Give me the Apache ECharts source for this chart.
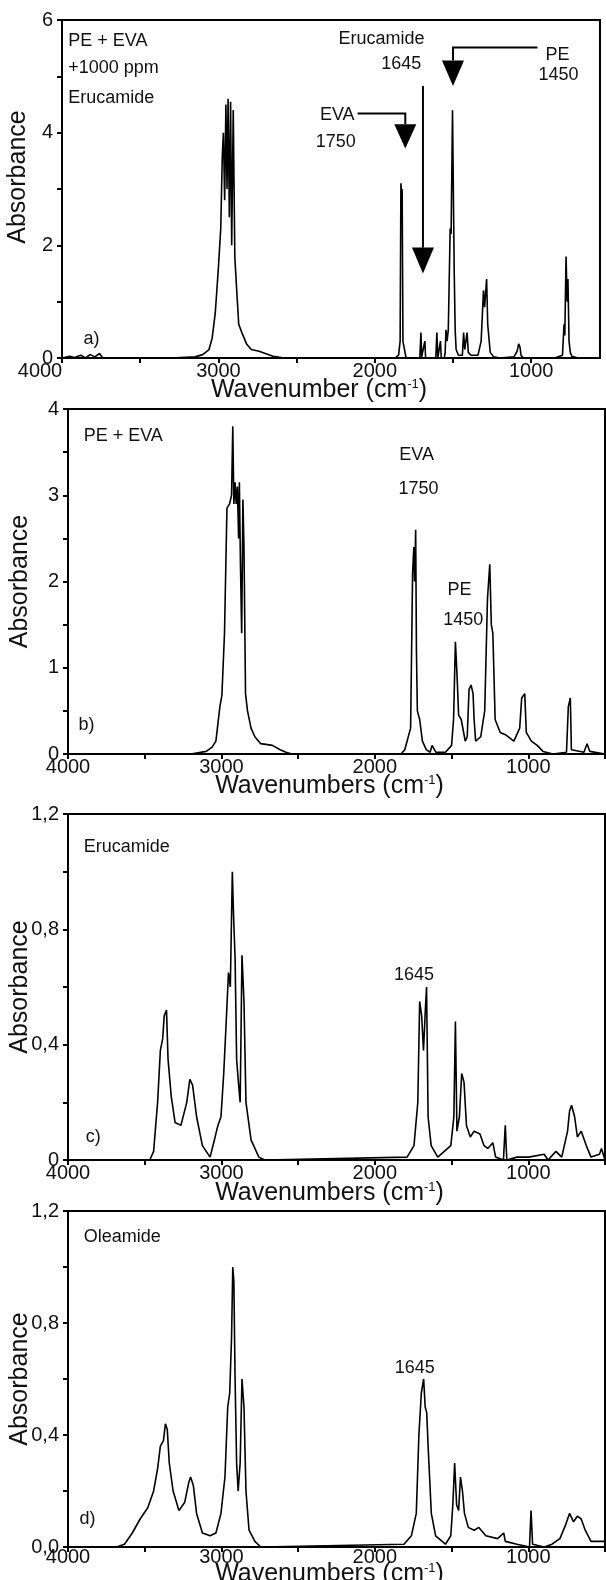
<!DOCTYPE html>
<html>
<head>
<meta charset="utf-8">
<script src="https://cdn.jsdelivr.net/npm/echarts@6/dist/echarts.min.js"></script>
<style>
html, body { margin: 0; padding: 0; background: #fff; }
#chart { width: 606px; height: 1580px; }
</style>
</head>
<body>
<div id="chart"></div>
<script>
// spectra, [wavenumber, absorbance]
const specA = [
  [4000, 0], [3950, 0.03], [3920, 0.01], [3880, 0.05], [3850, 0], [3820, 0.06], [3790, 0.02], [3760, 0.08], [3740, 0],
  [3650, 0], [3560, -0.04], [3500, 0], [3420, -0.03], [3300, 0], [3150, 0.02], [3100, 0.06], [3060, 0.15], [3040, 0.35],
  [3020, 0.8], [3000, 1.6], [2985, 2.3], [2975, 3.6], [2968, 4.0], [2960, 2.8], [2952, 4.5], [2945, 3.0], [2938, 4.6],
  [2930, 2.5], [2922, 4.55], [2915, 2.0], [2905, 4.4], [2895, 1.8], [2885, 1.3], [2870, 0.6], [2850, 0.45], [2820, 0.25],
  [2790, 0.15], [2740, 0.12], [2700, 0.08], [2650, 0.03], [2580, 0], [2500, -0.04], [2440, -0.02], [2400, -0.08],
  [2370, -0.02], [2200, 0], [1870, 0], [1848, 0.05], [1838, 0.3], [1833, 3.1], [1829, 2.9], [1825, 3.0], [1820, 0.3],
  [1800, 0], [1770, -0.08], [1740, -0.05], [1712, 0], [1705, 0.45], [1700, 0.02], [1690, 0], [1680, 0.3], [1675, 0],
  [1640, -0.05], [1610, 0], [1603, 0.45], [1597, 0], [1580, 0.3], [1575, 0], [1560, -0.08], [1550, 0.1], [1545, 0.5],
  [1538, 0.3], [1530, 0.5], [1518, 2.3], [1512, 2.2], [1503, 4.4], [1497, 2.8], [1492, 1.5], [1486, 0.5], [1480, 0.15],
  [1465, 0.05], [1440, 0.05], [1432, 0.45], [1425, 0.15], [1410, 0.45], [1402, 0.1], [1385, 0.05], [1340, 0.05],
  [1320, 0.3], [1305, 1.2], [1298, 0.9], [1285, 1.4], [1278, 0.6], [1270, 0.6], [1262, 0.1], [1240, 0.02], [1200, 0],
  [1110, 0.02], [1090, 0.12], [1080, 0.25], [1072, 0.2], [1065, 0.05], [1050, 0], [1000, -0.05], [960, -0.08],
  [900, -0.03], [850, 0], [800, 0.05], [790, 0.6], [785, 0.4], [777, 1.8], [770, 1.0], [765, 1.4], [758, 0.3],
  [750, 0.1], [740, 0.03], [700, 0], [560, 0]
];
const specB = [
  [4000, 0], [3200, 0], [3099, 0.03], [3061, 0.08], [3036, 0.15], [3010, 0.55], [2997, 0.68], [2980, 1.4], [2964, 2.85],
  [2947, 2.9], [2934, 3.0], [2926, 3.8], [2919, 2.9], [2911, 3.15], [2904, 2.9], [2896, 3.1], [2888, 2.5], [2883, 3.15],
  [2876, 2.2], [2868, 1.4], [2860, 2.95], [2853, 2.4], [2843, 0.7], [2830, 0.5], [2807, 0.3], [2782, 0.2], [2744, 0.12],
  [2668, 0.1], [2617, 0.05], [2579, 0.02], [2541, 0], [1830, 0], [1805, 0.05], [1767, 0.3], [1754, 2.1], [1746, 2.4],
  [1741, 2.0], [1734, 2.6], [1729, 1.2], [1723, 0.5], [1708, 0.4], [1690, 0.15], [1665, 0.05], [1640, 0.02], [1627, 0.1],
  [1602, 0.02], [1540, 0.02], [1500, 0.1], [1487, 0.4], [1475, 1.3], [1464, 0.9], [1454, 0.45], [1437, 0.4], [1411, 0.15],
  [1398, 0.2], [1386, 0.75], [1373, 0.8], [1360, 0.7], [1353, 0.4], [1343, 0.15], [1310, 0.2], [1284, 0.5], [1266, 1.8],
  [1251, 2.2], [1241, 1.5], [1231, 1.4], [1216, 0.4], [1183, 0.25], [1145, 0.22], [1094, 0.15], [1056, 0.3], [1043, 0.65],
  [1023, 0.7], [1013, 0.25], [980, 0.15], [942, 0.1], [904, 0.03], [840, 0], [751, 0.02], [739, 0.55], [726, 0.65],
  [719, 0.05], [637, 0.02], [617, 0.12], [599, 0.03], [500, 0]
];
const specC = [
  [4000, 0], [3467, 0], [3442, 0.03], [3416, 0.2], [3398, 0.38], [3383, 0.42], [3373, 0.5], [3358, 0.52], [3348, 0.35],
  [3327, 0.22], [3302, 0.13], [3264, 0.12], [3226, 0.2], [3206, 0.28], [3188, 0.26], [3162, 0.15], [3124, 0.05],
  [3074, 0.01], [3041, 0.08], [3023, 0.12], [3003, 0.15], [2985, 0.3], [2967, 0.5], [2954, 0.65], [2942, 0.6],
  [2929, 1.0], [2921, 0.85], [2911, 0.7], [2901, 0.35], [2891, 0.28], [2878, 0.2], [2866, 0.71], [2853, 0.55],
  [2840, 0.2], [2807, 0.07], [2756, 0.01], [2718, 0], [1790, 0.01], [1745, 0.05], [1720, 0.2], [1708, 0.55],
  [1695, 0.5], [1683, 0.38], [1671, 0.52], [1663, 0.6], [1653, 0.15], [1633, 0.05], [1590, 0.01], [1505, 0.05],
  [1485, 0.15], [1475, 0.48], [1465, 0.1], [1449, 0.15], [1434, 0.3], [1419, 0.27], [1403, 0.12], [1378, 0.08],
  [1353, 0.1], [1315, 0.09], [1289, 0.05], [1264, 0.04], [1231, 0.06], [1213, 0.01], [1162, 0], [1150, 0.12],
  [1140, 0], [1074, 0.01], [997, 0.01], [896, 0.02], [871, 0], [820, 0.03], [782, 0.01], [744, 0.1], [731, 0.17],
  [718, 0.19], [698, 0.15], [680, 0.08], [655, 0.1], [642, 0.1], [622, 0.05], [591, 0.01], [536, 0.02], [523, 0.04],
  [500, 0]
];
const specD = [
  [4000, 0], [3683, 0], [3632, 0.01], [3581, 0.05], [3530, 0.1], [3480, 0.14], [3442, 0.2], [3416, 0.28], [3398, 0.36],
  [3378, 0.38], [3365, 0.44], [3353, 0.42], [3340, 0.3], [3315, 0.2], [3277, 0.13], [3239, 0.16], [3213, 0.23],
  [3201, 0.25], [3183, 0.22], [3162, 0.12], [3124, 0.05], [3074, 0.04], [3036, 0.05], [3003, 0.12], [2977, 0.25],
  [2959, 0.5], [2946, 0.55], [2934, 0.75], [2926, 1.0], [2919, 0.95], [2911, 0.6], [2901, 0.3], [2891, 0.2],
  [2878, 0.3], [2866, 0.6], [2853, 0.5], [2840, 0.2], [2820, 0.06], [2782, 0.02], [2744, 0], [1810, 0.01],
  [1762, 0.04], [1730, 0.12], [1713, 0.4], [1697, 0.55], [1682, 0.6], [1672, 0.5], [1662, 0.48], [1652, 0.35],
  [1632, 0.12], [1604, 0.04], [1540, 0.01], [1505, 0.04], [1492, 0.15], [1480, 0.3], [1467, 0.15], [1454, 0.13],
  [1442, 0.25], [1429, 0.2], [1416, 0.12], [1391, 0.07], [1353, 0.06], [1322, 0.07], [1277, 0.04], [1200, 0.03],
  [1160, 0.05], [1150, 0.02], [1074, 0.01], [992, 0], [982, 0.13], [972, 0.01], [896, 0], [845, 0.01], [794, 0.03],
  [756, 0.08], [731, 0.12], [705, 0.09], [680, 0.11], [655, 0.1], [629, 0.06], [591, 0.02], [500, 0.02]
];

// axis ticks and labels
const xTicks = [4000, 3500, 3000, 2500, 2000, 1500, 1000, 500];
const xLabels = [4000, 3000, 2000, 1000];
const yLabelsA = [0, 2, 4, 6];
const yLabelsB = [0, 1, 2, 3, 4];
const yLabelsC = ['0', '0,4', '0,8', '1,2'];
const yLabelsD = ['0,0', '0,4', '0,8', '1,2'];

// text notes: [text, wavenumber, absorbance, align]
const notesA = [
  ['PE + EVA', 3960, 5.62, 'left'], ['+1000 ppm', 3960, 5.14, 'left'], ['Erucamide', 3960, 4.62, 'left'],
  ['Erucamide', 1957, 5.67, 'center'], ['1645', 1831, 5.22, 'center'], ['PE', 832, 5.38, 'center'],
  ['1450', 825, 5.03, 'center'], ['EVA', 2240, 4.32, 'center'], ['1750', 2250, 3.84, 'center'],
  ['a)', 3812, 0.33, 'center']
];
const notesB = [
  ['PE + EVA', 3898, 3.69, 'left'], ['EVA', 1728, 3.47, 'center'], ['1750', 1716, 3.07, 'center'],
  ['PE', 1449, 1.9, 'center'], ['1450', 1424, 1.55, 'center'], ['b)', 3880, 0.34, 'center']
];
const notesC = [['Erucamide', 3898, 1.087, 'left'], ['1645', 1745, 0.64, 'center'], ['c)', 3835, 0.08, 'center']];
const notesD = [['Oleamide', 3898, 1.106, 'left'], ['1645', 1740, 0.64, 'center'], ['d)', 3873, 0.1, 'center']];

// arrows in panel a: line path then the arrow tip
const arrowsA = [
  { path: [[960, 5.51], [1500, 5.51], [1500, 5.28]], tip: 4.83 },
  { path: [[2110, 4.34], [1805, 4.34], [1805, 4.15]], tip: 3.72 },
  { path: [[1692, 4.83], [1692, 1.96]], tip: 1.5 }
];

const FONT = '"Liberation Sans", Arial, sans-serif';
const TXT = '#111';

const grids = [
  { left: 62, top: 20, width: 538, height: 338 },
  { left: 68, top: 409, width: 537, height: 345 },
  { left: 68, top: 814, width: 537, height: 346 },
  { left: 68, top: 1211, width: 537, height: 336 }
];
const xMins = [560, 500, 500, 500];
const xNames = ['Wavenumber', 'Wavenumbers', 'Wavenumbers', 'Wavenumbers'];
const xNameGaps = [20, 20, 21, 15];
const yMax = [6, 4, 1.2, 1.2];
const yStep = [1, 0.5, 0.2, 0.2];
const yLabelVals = [yLabelsA, yLabelsB, [0, 0.4, 0.8, 1.2], [0, 0.4, 0.8, 1.2]];
const yLabelTxt = [yLabelsA.map(String), yLabelsB.map(String), yLabelsC, yLabelsD];
const specs = [specA, specB, specC, specD];
const notes = [notesA, notesB, notesC, notesD];

const chart = echarts.init(document.getElementById('chart'));

const option = {
  animation: false,
  backgroundColor: '#fff',
  grid: grids.map(g => Object.assign({
    show: true, borderColor: '#000', borderWidth: 2, containLabel: false, outerBoundsMode: 'none'
  }, g)),
  xAxis: grids.map((g, i) => ({
    type: 'value',
    gridIndex: i,
    inverse: true,
    min: xMins[i],
    max: 4000,
    name: xNames[i] + ' (cm{sup|-1})',
    nameLocation: 'middle',
    nameGap: xNameGaps[i],
    nameMoveOverlap: false,
    nameTextStyle: {
      fontFamily: FONT, fontSize: 25, color: TXT, verticalAlign: 'top',
      padding: [0, i === 0 ? 24 : 14, 0, 0],
      rich: { sup: { fontFamily: FONT, fontSize: 13, color: TXT, verticalAlign: 'top', padding: [0, 0, 9, 0] } }
    },
    axisLine: { onZero: false, lineStyle: { color: '#000', width: 2 } },
    axisTick: { show: true, length: 5, lineStyle: { color: '#000', width: 2 },
      customValues: xTicks.filter(v => v >= xMins[i]) },
    axisLabel: {
      fontFamily: FONT, fontSize: 20, color: TXT, margin: i === 3 ? 0 : 3,
      customValues: xLabels,
      // panel a prints its 4000 to the left of the corner
      formatter: v => (i === 0 && v === 4000) ? '{first|4000}' : String(v),
      rich: { first: { fontFamily: FONT, fontSize: 20, color: TXT, padding: [0, 44, 0, 0] } }
    },
    splitLine: { show: false }
  })),
  yAxis: grids.map((g, i) => ({
    type: 'value',
    gridIndex: i,
    min: 0,
    max: yMax[i],
    interval: yStep[i],
    name: 'Absorbance',
    nameLocation: 'middle',
    nameGap: i === 0 ? 31 : 35,
    nameMoveOverlap: false,
    nameTextStyle: { fontFamily: FONT, fontSize: 25, color: TXT, padding: i === 0 ? [0, 0, 0, 24] : 0 },
    axisLine: { onZero: false, lineStyle: { color: '#000', width: 2 } },
    axisTick: { show: true, length: 5, lineStyle: { color: '#000', width: 2 } },
    axisLabel: {
      fontFamily: FONT, fontSize: 20, color: TXT, margin: 9,
      formatter: v => {
        const k = yLabelVals[i].findIndex(t => Math.abs(t - v) < 1e-6);
        return k < 0 ? '' : yLabelTxt[i][k];
      }
    },
    splitLine: { show: false }
  })),
  series: specs.map((s, i) => ({
    type: 'line',
    xAxisIndex: i,
    yAxisIndex: i,
    data: s,
    showSymbol: false,
    symbol: 'none',
    lineStyle: { color: '#000', width: 1.6 },
    silent: true
  }))
};

chart.setOption(option);

// annotations placed through the axes
const graphics = [];
notes.forEach((list, i) => {
  list.forEach(([text, wn, a, align]) => {
    const [px, py] = chart.convertToPixel({ gridIndex: i }, [wn, a]);
    graphics.push({
      type: 'text', x: px, y: py, silent: true,
      style: { text, font: '18px ' + FONT, fill: TXT, textAlign: align, textVerticalAlign: 'middle' }
    });
  });
});
arrowsA.forEach(ar => {
  const pts = ar.path.map(p => chart.convertToPixel({ gridIndex: 0 }, p));
  graphics.push({ type: 'polyline', silent: true, shape: { points: pts }, style: { stroke: '#000', lineWidth: 2, fill: null } });
  const base = pts[pts.length - 1];
  const tip = chart.convertToPixel({ gridIndex: 0 }, [ar.path[ar.path.length - 1][0], ar.tip]);
  graphics.push({
    type: 'polygon', silent: true,
    shape: { points: [[base[0] - 11, base[1]], [base[0] + 11, base[1]], tip] },
    style: { fill: '#000' }
  });
});
chart.setOption({ graphic: graphics });
</script>
</body>
</html>
